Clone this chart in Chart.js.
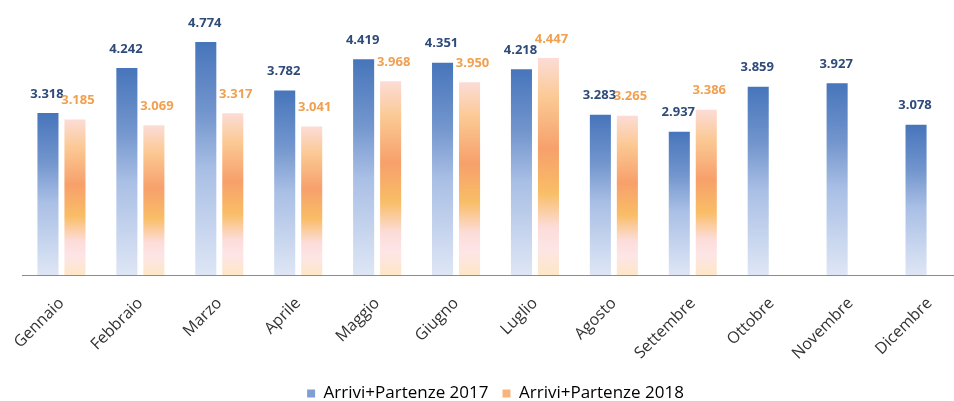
<!DOCTYPE html>
<html>
<head>
<meta charset="utf-8">
<script src="https://cdn.jsdelivr.net/npm/chart.js@4.4.1/dist/chart.umd.min.js"></script>
<style>
  html, body { margin: 0; padding: 0; background: #fff; overflow: hidden; }
  #wrap { position: relative; width: 975px; height: 412px; }
</style>
</head>
<body>
<div id="wrap"><canvas id="arriviChart" width="975" height="412"></canvas></div>
<script>
// Data
const months = ['Gennaio', 'Febbraio', 'Marzo', 'Aprile', 'Maggio', 'Giugno',
                'Luglio', 'Agosto', 'Settembre', 'Ottobre', 'Novembre', 'Dicembre'];
const movements2017 = [3318, 4242, 4774, 3782, 4419, 4351, 4218, 3283, 2937, 3859, 3927, 3078];
const movements2018 = [3185, 3069, 3317, 3041, 3968, 3950, 4447, 3265, 3386, null, null, null];
const seriesNames = ['Arrivi+Partenze 2017', 'Arrivi+Partenze 2018'];

// Italian thousands separator, e.g. 3318 -> "3.318"
function fmt(v) {
    return String(v).replace(/\B(?=(\d{3})+(?!\d))/g, '.');
}

// each bar gets its own gradient, from its top down to the axis
function barGradient(ctx, stops) {
    const chart = ctx.chart;
    const value = ctx.raw;
    if (!chart.chartArea || value == null) return stops[0][1];
    const y = chart.scales.y;
    const top = y.getPixelForValue(value);
    const bottom = y.getPixelForValue(0);
    const g = chart.ctx.createLinearGradient(0, top, 0, bottom);
    stops.forEach(s => g.addColorStop(s[0], s[1]));
    return g;
}

const blueStops = [
    [0, '#4775bb'],
    [0.3, '#7295cd'],
    [0.55, '#a9bfe5'],
    [1, '#dee6f5']
];
const orangeStops = [
    [0, '#fcdcd6'],
    [0.18, '#fbc994'],
    [0.42, '#f7a06b'],
    [0.62, '#f9bd66'],
    [0.78, '#fcdcd9'],
    [0.88, '#fde5e6'],
    [1, '#fde7c6']
];

const valueLabels = {
    id: 'valueLabels',
    afterDatasetsDraw(chart) {
        const ctx = chart.ctx;
        ctx.save();
        ctx.font = 'bold 13px "Open Sans", sans-serif';
        ctx.textAlign = 'center';
        ctx.textBaseline = 'middle';
        chart.data.datasets.forEach((ds, i) => {
            const meta = chart.getDatasetMeta(i);
            ctx.fillStyle = i === 0 ? '#2f4b7a' : '#f0a050';
            const dx = i === 0 ? -1 : 3;
            meta.data.forEach((bar, j) => {
                const v = ds.data[j];
                if (v == null) return;
                ctx.fillText(fmt(v), bar.x + dx, bar.y - 19);
            });
        });
        ctx.restore();
    }
};

new Chart(document.getElementById('arriviChart'), {
    type: 'bar',
    data: {
        labels: months,
        datasets: [{
            label: seriesNames[0],
            data: movements2017,
            backgroundColor: c => barGradient(c, blueStops),
            categoryPercentage: 0.684,
            barPercentage: 0.78
        }, {
            label: seriesNames[1],
            data: movements2018,
            backgroundColor: c => barGradient(c, orangeStops),
            categoryPercentage: 0.684,
            barPercentage: 0.78
        }]
    },
    options: {
        responsive: false,
        animation: false,
        devicePixelRatio: 1,
        layout: { padding: { left: 22, right: 6, top: 31, bottom: 0 } },
        scales: {
            x: {
                grid: { display: false, drawTicks: false },
                border: { display: true, color: '#8c8c8c', width: 1 },
                ticks: {
                    minRotation: 45,
                    maxRotation: 45,
                    padding: 19,
                    color: '#333333',
                    font: { family: '"Open Sans", sans-serif', size: 16 }
                },
                afterFit(scale) {
                    scale.height = 96;
                    scale.paddingLeft = 0;
                    scale.paddingRight = 0;
                }
            },
            y: {
                display: false,
                min: 0,
                max: 5000
            }
        },
        plugins: {
            legend: {
                position: 'bottom',
                labels: {
                    boxWidth: 8,
                    boxHeight: 8,
                    padding: 14,
                    color: '#333333',
                    font: { family: '"Open Sans", sans-serif', size: 17 },
                    generateLabels(chart) {
                        return seriesNames.map((name, i) => ({
                            text: name,
                            fillStyle: i === 0 ? '#7f9fd4' : '#f8b47c',
                            strokeStyle: 'rgba(0,0,0,0)',
                            lineWidth: 0,
                            datasetIndex: i
                        }));
                    }
                }
            },
            tooltip: { enabled: false }
        }
    },
    plugins: [valueLabels]
});
</script>
</body>
</html>
